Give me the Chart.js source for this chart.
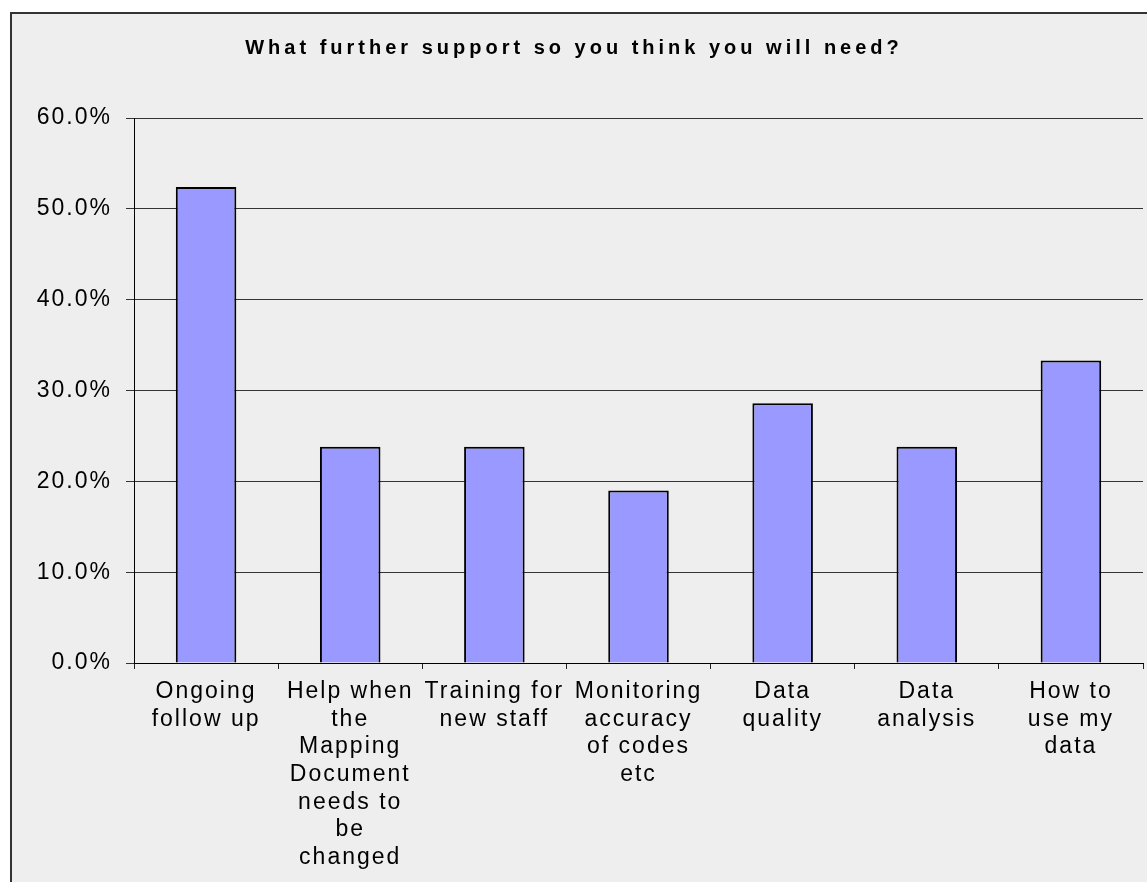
<!DOCTYPE html>
<html>
<head>
<meta charset="utf-8">
<script src="https://cdn.jsdelivr.net/npm/chart.js@4.4.1/dist/chart.umd.min.js"></script>
<style>
  html, body { margin: 0; padding: 0; background: #ffffff; overflow: hidden; }
  #frame {
    position: absolute;
    left: 10px;
    top: 12px;
    width: 1135px;
    height: 868px;
    background: #eeeeee;
    border-left: 2px solid #333333;
    border-top: 2px solid #333333;
  }
</style>
</head>
<body>
<div id="frame"><canvas id="chartSupport"></canvas></div>
<script>
const TITLE = 'What further support so you think you will need?';

const categories = [
  ['Ongoing', 'follow up'],
  ['Help when', 'the', 'Mapping', 'Document', 'needs to', 'be', 'changed'],
  ['Training for', 'new staff'],
  ['Monitoring', 'accuracy', 'of codes', 'etc'],
  ['Data', 'quality'],
  ['Data', 'analysis'],
  ['How to', 'use my', 'data'],
];

// percent of respondents
const supportValues = [52.4, 23.8, 23.8, 19.0, 28.6, 23.8, 33.3];

const yTicks = [0, 10, 20, 30, 40, 50, 60];

const FONT = "'Liberation Sans', Arial, sans-serif";

// spreads the letters a bit, the original text looks wide
const spacingPlugin = {
  id: 'spacing',
  beforeUpdate(chart) {
    chart.ctx.letterSpacing = '2px';
  },
  beforeDraw(chart) {
    chart.ctx.letterSpacing = '2px';
  },
};

const titlePlugin = {
  id: 'wideTitle',
  afterDraw(chart) {
    const ctx = chart.ctx;
    ctx.save();
    ctx.letterSpacing = '4px';
    ctx.font = `bold 20px ${FONT}`;
    ctx.fillStyle = '#000000';
    ctx.textAlign = 'center';
    ctx.textBaseline = 'middle';
    ctx.fillText(TITLE, 562, 34);
    ctx.restore();
  },
};

const canvas = document.getElementById('chartSupport');

new Chart(canvas.getContext('2d'), {
  type: 'bar',
  data: {
    labels: categories,
    datasets: [
      {
        label: 'Support',
        data: supportValues,
        backgroundColor: '#9999ff',
        borderColor: '#000000',
        borderWidth: 2,
        barPercentage: 0.42,
        categoryPercentage: 1,
      },
    ],
  },
  options: {
    responsive: true,
    maintainAspectRatio: false,
    animation: false,
    layout: {
      padding: { top: 104, right: 4, bottom: 0, left: 0 },
    },
    plugins: {
      legend: { display: false },
      title: { display: false },
      tooltip: { enabled: false },
    },
    scales: {
      x: {
        offset: true,
        grid: {
          offset: true,
          drawOnChartArea: false,
          drawTicks: true,
          tickLength: 6,
          color: '#222222',
        },
        border: { display: true, color: '#000000', width: 1 },
        ticks: {
          color: '#000000',
          font: { family: FONT, size: 23 },
          maxRotation: 0,
          minRotation: 0,
          autoSkip: false,
          padding: 9,
        },
        afterFit(scale) {
          scale.height = 219;
        },
      },
      y: {
        min: 0,
        max: 60,
        afterBuildTicks(scale) {
          scale.ticks = yTicks.map((value) => ({ value }));
        },
        grid: {
          color: '#333333',
          drawTicks: true,
          tickLength: 8,
        },
        border: { display: true, color: '#000000', width: 1 },
        ticks: {
          color: '#000000',
          font: { family: FONT, size: 23 },
          padding: 14,
          callback(value) {
            return `${Number(value).toFixed(1)}%`;
          },
        },
        afterFit(scale) {
          scale.width = 122;
        },
      },
    },
  },
  plugins: [spacingPlugin, titlePlugin],
});
</script>
</body>
</html>
